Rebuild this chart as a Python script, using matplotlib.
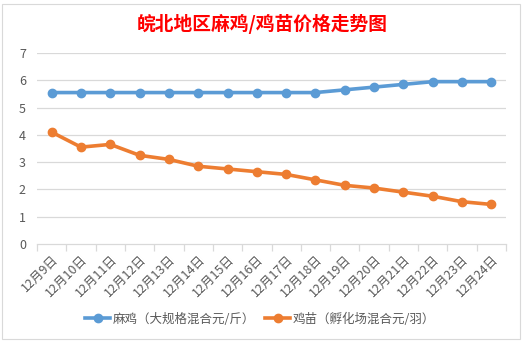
import matplotlib
matplotlib.use("Agg")
import matplotlib.pyplot as plt
from matplotlib.patches import Rectangle
import numpy as np

plt.rcParams["font.family"] = ["Noto Sans CJK SC", "DejaVu Sans"]

dates = ["12月9日", "12月10日", "12月11日", "12月12日", "12月13日", "12月14日",
         "12月15日", "12月16日", "12月17日", "12月18日", "12月19日", "12月20日",
         "12月21日", "12月22日", "12月23日", "12月24日"]
maji = [5.55, 5.55, 5.55, 5.55, 5.55, 5.55, 5.55, 5.55, 5.55, 5.55,
        5.65, 5.75, 5.85, 5.95, 5.95, 5.95]
jimiao = [4.1, 3.55, 3.65, 3.25, 3.1, 2.85, 2.75, 2.65, 2.55, 2.35,
          2.15, 2.05, 1.9, 1.75, 1.55, 1.45]
yticks = [0, 1, 2, 3, 4, 5, 6, 7]

W, H = 523, 343
fig = plt.figure(figsize=(W / 100, H / 100), dpi=100)
fig.patch.set_facecolor("white")

# chart area border
fig.patches.append(Rectangle((2 / W, 4 / H), 518 / W, 335 / H, transform=fig.transFigure,
                             fill=False, edgecolor="#d9d9d9", linewidth=0.8))

ax = fig.add_axes([37 / W, 1 - 244 / H, 469 / W, 191 / H])
x = np.arange(len(dates))
grid = "#d9d9d9"
text_c = "#595959"

ax.plot(x, maji, color="#5b9bd5", linewidth=2.6, marker="o", markersize=6,
        label="麻鸡（大规格混合元/斤）", zorder=3)
ax.plot(x, jimiao, color="#ed7d31", linewidth=2.6, marker="o", markersize=6,
        label="鸡苗（孵化场混合元/羽）", zorder=3)

ax.set_xlim(-0.5, len(dates) - 0.5)
ax.set_ylim(0, 7)
ax.set_yticks(yticks)
ax.set_yticklabels([str(v) for v in yticks], color=text_c, fontsize=9)
for v in yticks[1:]:
    ax.axhline(v, color=grid, linewidth=0.9, zorder=1)

ax.set_xticks(x)
ax.set_xticklabels(dates, rotation=45, ha="right", rotation_mode="anchor",
                   color=text_c, fontsize=9)
ax.set_xticks(np.arange(-0.5, len(dates)), minor=True)
ax.tick_params(axis="x", which="major", length=0, pad=6)
ax.tick_params(axis="x", which="minor", length=5, color=grid, width=0.9, direction="out")
ax.tick_params(axis="y", length=0, pad=8)

for s in ["top", "right", "left"]:
    ax.spines[s].set_visible(False)
ax.spines["bottom"].set_color(grid)
ax.spines["bottom"].set_linewidth(0.9)

fig.text(262 / W, 1 - 24 / H, "皖北地区麻鸡/鸡苗价格走势图", color="#ff0000",
         fontsize=13.5, fontweight="bold", ha="center", va="center")

fig.legend(loc="center", bbox_to_anchor=(260 / W, 1 - 319 / H), ncol=2, frameon=False,
           fontsize=9, labelcolor=text_c, handlelength=2.0, columnspacing=0.8,
           handletextpad=0.2)

fig.savefig("out.png", dpi=100)
